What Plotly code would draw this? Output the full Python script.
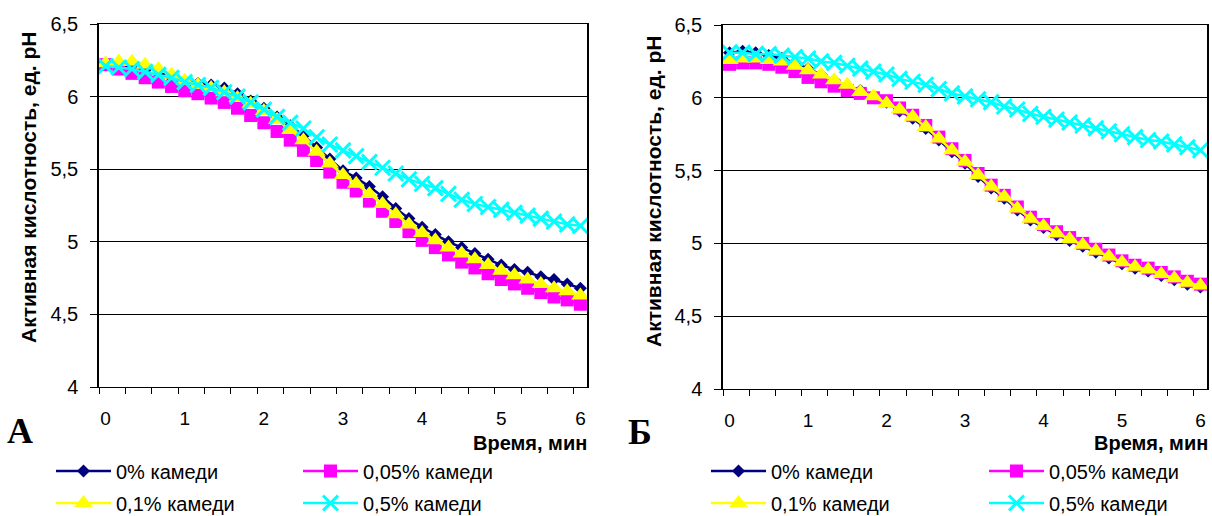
import plotly.graph_objects as go

W, H = 1212, 516

# time axis: every 10 s from 0 to 6 min
time_s = list(range(0, 361, 10))
time_min = [s / 60 for s in time_s]

series_names = ["0% камеди", "0,05% камеди", "0,1% камеди", "0,5% камеди"]

# Panel A
A_0 = [6.22, 6.21, 6.20, 6.18, 6.16, 6.13, 6.11, 6.09, 6.08, 6.06, 6.02, 5.97, 5.92,
       5.86, 5.80, 5.73, 5.65, 5.57, 5.49, 5.44, 5.38, 5.31, 5.23, 5.16, 5.10, 5.05,
       5.00, 4.96, 4.92, 4.88, 4.84, 4.81, 4.79, 4.76, 4.74, 4.71, 4.68]
A_005 = [6.22, 6.19, 6.16, 6.13, 6.10, 6.07, 6.04, 6.02, 5.99, 5.96, 5.92, 5.87, 5.82,
         5.76, 5.70, 5.63, 5.56, 5.48, 5.41, 5.35, 5.28, 5.21, 5.14, 5.07, 5.01, 4.96,
         4.91, 4.86, 4.82, 4.78, 4.74, 4.71, 4.68, 4.65, 4.62, 4.60, 4.57]
A_01 = [6.23, 6.24, 6.24, 6.22, 6.19, 6.15, 6.11, 6.08, 6.06, 6.03, 5.99, 5.95, 5.90,
        5.84, 5.77, 5.70, 5.62, 5.54, 5.46, 5.40, 5.33, 5.26, 5.19, 5.12, 5.06, 5.01,
        4.96, 4.92, 4.88, 4.84, 4.80, 4.77, 4.74, 4.71, 4.68, 4.66, 4.63]
A_05 = [6.21, 6.20, 6.19, 6.17, 6.15, 6.13, 6.10, 6.08, 6.06, 6.03, 6.00, 5.96, 5.91,
        5.86, 5.82, 5.78, 5.72, 5.67, 5.63, 5.59, 5.55, 5.51, 5.47, 5.43, 5.40, 5.37,
        5.33, 5.29, 5.26, 5.24, 5.22, 5.20, 5.18, 5.16, 5.14, 5.12, 5.11]

# Panel Б
B_0 = [6.31, 6.32, 6.31, 6.29, 6.27, 6.24, 6.20, 6.16, 6.12, 6.08, 6.05, 6.01, 5.97,
       5.91, 5.86, 5.79, 5.71, 5.63, 5.55, 5.46, 5.38, 5.31, 5.23, 5.16, 5.11, 5.06,
       5.02, 4.98, 4.94, 4.90, 4.86, 4.83, 4.81, 4.78, 4.75, 4.72, 4.70]
B_005 = [6.23, 6.24, 6.24, 6.23, 6.21, 6.18, 6.14, 6.11, 6.08, 6.05, 6.03, 6.00, 5.98,
         5.93, 5.88, 5.81, 5.73, 5.65, 5.57, 5.48, 5.40, 5.33, 5.25, 5.18, 5.13, 5.08,
         5.04, 5.00, 4.96, 4.92, 4.88, 4.85, 4.83, 4.80, 4.77, 4.74, 4.72]
B_01 = [6.26, 6.27, 6.27, 6.26, 6.25, 6.22, 6.19, 6.16, 6.12, 6.09, 6.04, 6.01, 5.96,
        5.92, 5.87, 5.80, 5.72, 5.64, 5.56, 5.47, 5.39, 5.32, 5.24, 5.17, 5.12, 5.07,
        5.03, 4.99, 4.95, 4.91, 4.87, 4.84, 4.82, 4.79, 4.76, 4.73, 4.71]
B_05 = [6.31, 6.31, 6.30, 6.30, 6.29, 6.28, 6.27, 6.25, 6.24, 6.22, 6.20, 6.18, 6.16,
        6.13, 6.11, 6.09, 6.06, 6.03, 6.01, 5.99, 5.97, 5.94, 5.92, 5.89, 5.87, 5.85,
        5.83, 5.81, 5.79, 5.77, 5.75, 5.73, 5.71, 5.70, 5.68, 5.66, 5.64]

x_tick_vals = [0, 1, 2, 3, 4, 5, 6]
x_tick_text = ["0", "1", "2", "3", "4", "5", "6"]
y_tick_vals = [4, 4.5, 5, 5.5, 6, 6.5]
y_tick_text = ["4", "4,5", "5", "5,5", "6", "6,5"]

colors = ["#000080", "#FF00FF", "#FFFF00", "#00FFFF"]
symbols = ["diamond", "square", "triangle-up", "x-thin"]
msizes = [10, 13, 16, 15]

FONT = "Liberation Sans, Arial, sans-serif"


def px(p):
    return p / W


def py(p):
    return 1 - p / H


fig = go.Figure()

panels = [
    ([A_0, A_005, A_01, A_05], "x", "y", ["legend", "legend2", "legend", "legend2"]),
    ([B_0, B_005, B_01, B_05], "x2", "y2", ["legend3", "legend4", "legend3", "legend4"]),
]
for data, xa, ya, legs in panels:
    for i, vals in enumerate(data):
        marker = dict(symbol=symbols[i], size=msizes[i], color=colors[i],
                      line=dict(width=0, color=colors[i]))
        if symbols[i] == "x-thin":
            marker["line"] = dict(width=3, color=colors[i])
        fig.add_trace(go.Scatter(
            x=time_min, y=vals, name=series_names[i], mode="lines+markers",
            line=dict(color=colors[i], width=2.5), marker=marker,
            xaxis=xa, yaxis=ya, legend=legs[i], legendgroup=xa + str(i),
            cliponaxis=False,
        ))


def xaxis_cfg(domain):
    return dict(
        domain=domain, range=[-1 / 12, 73 / 12],
        tickmode="array", tickvals=x_tick_vals, ticktext=x_tick_text,
        ticks="", ticklabelstandoff=14,
        tickfont=dict(size=19, color="black", family=FONT),
        showline=True, linecolor="black", linewidth=1, mirror=True,
        showgrid=False, zeroline=False,
        minor=dict(tickmode="linear", tick0=-1 / 12, dtick=1 / 3, ticks="outside",
                   ticklen=6, tickwidth=1, tickcolor="black", showgrid=False),
    )


def yaxis_cfg(domain, anchor):
    return dict(
        domain=domain, range=[4, 6.5], anchor=anchor,
        tickmode="array", tickvals=y_tick_vals, ticktext=y_tick_text,
        ticks="outside", ticklen=7, tickwidth=1, tickcolor="black",
        ticklabelstandoff=8,
        tickfont=dict(size=20, color="black", family=FONT),
        showline=True, linecolor="black", linewidth=1.5, mirror=True,
        showgrid=True, gridcolor="black", gridwidth=1, zeroline=False,
    )


xa1 = xaxis_cfg([px(99), px(587)])
xa1["anchor"] = "y"
xa2 = xaxis_cfg([px(723), px(1207)])
xa2["anchor"] = "y2"

legend_common = dict(orientation="v", xanchor="left", yanchor="middle",
                     font=dict(size=20, color="black", family=FONT),
                     bgcolor="rgba(0,0,0,0)", tracegroupgap=3, borderwidth=0,
                     itemwidth=55)

fig.update_layout(
    width=W, height=H,
    margin=dict(l=0, r=0, t=0, b=0, autoexpand=False),
    paper_bgcolor="white", plot_bgcolor="white",
    font=dict(family=FONT, color="black"),
    xaxis=xa1,
    yaxis=yaxis_cfg([py(387), py(24)], "x"),
    xaxis2=xa2,
    yaxis2=yaxis_cfg([py(389), py(25)], "x2"),
    legend=dict(legend_common, x=px(51), y=py(487)),
    legend2=dict(legend_common, x=px(298), y=py(487)),
    legend3=dict(legend_common, x=px(706), y=py(487)),
    legend4=dict(legend_common, x=px(984), y=py(487)),
    showlegend=True,
)

ytitle = "Активная кислотность, ед. pH"
xtitle = "Время, мин"
annos = [
    dict(text=ytitle, x=px(28), y=py(188), textangle=-90,
         font=dict(size=21, family=FONT, color="black", weight="bold")),
    dict(text=ytitle, x=px(653), y=py(192), textangle=-90,
         font=dict(size=21, family=FONT, color="black", weight="bold")),
    dict(text=xtitle, x=px(589), y=py(443), xanchor="right",
         font=dict(size=20, family=FONT, color="black", weight="bold")),
    dict(text=xtitle, x=px(1210), y=py(443), xanchor="right",
         font=dict(size=20, family=FONT, color="black", weight="bold")),
    dict(text="А", x=px(20), y=py(431),
         font=dict(size=36, family="Liberation Serif, Times New Roman, serif",
                   color="black", weight="bold")),
    dict(text="Б", x=px(640), y=py(432),
         font=dict(size=36, family="Liberation Serif, Times New Roman, serif",
                   color="black", weight="bold")),
]
for a in annos:
    a.update(xref="paper", yref="paper", showarrow=False)
    a.setdefault("xanchor", "center")
    a.setdefault("yanchor", "middle")
fig.update_layout(annotations=annos)

fig.write_html("out.html")
